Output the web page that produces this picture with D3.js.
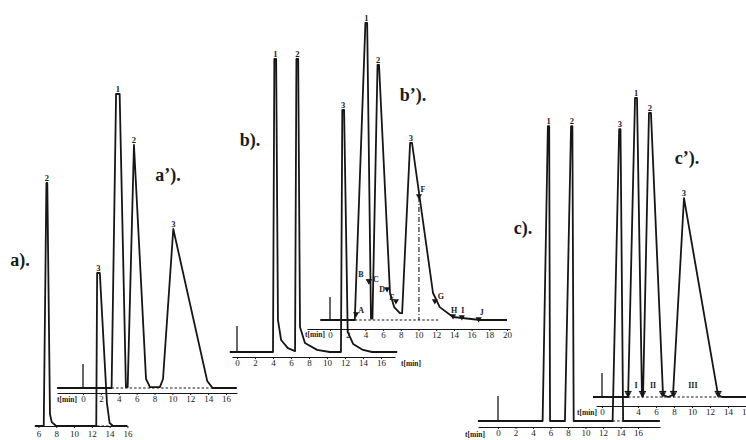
<!DOCTYPE html>
<html>
<head>
<meta charset="utf-8">
<script src="https://d3js.org/d3.v7.min.js"></script>
<style>
  body { margin: 0; background: #fff; }
  svg { display: block; }
  text { font-family: "Liberation Serif", "DejaVu Serif", serif; fill: #1a1a1a; }
</style>
</head>
<body>
<script>
// chromatogram traces, [time in min, detector signal]
var traceA = [[5.6,0],[6.6,0],[6.9,81],[7.0,81],[7.3,4],[7.5,1.3],[8.0,0],[12.5,0],[12.6,51],[12.9,51],[13.7,7.7],[14.0,1],[14.4,0],[16,0]];
var peaksA = [[6.95,81,"2"],[12.75,51,"3"]];
var ticksA = [6,8,10,12,14,16];

var traceA2 = [[-2.9,0],[3.2,0],[3.7,98],[4.1,98],[4.8,0.3],[5.0,0.3],[5.7,81],[7.05,3],[7.5,0.3],[8.6,0.3],[8.95,3],[10.1,53],[13.9,2.3],[14.5,0],[17.2,0]];
var peaksA2 = [[3.9,98,"1"],[5.7,81,"2"],[10.1,53,"3"]];
var ticksA2 = [0,2,4,6,8,10,12,14,16];

var traceB = [[-0.8,0],[4.0,0],[4.15,97.7],[4.35,97.7],[4.55,10.7],[4.9,4],[5.65,1.3],[6.45,0.3],[6.6,97.7],[6.8,97.7],[7.0,8.3],[7.55,3],[8.9,0.7],[10.3,0],[11.55,0],[11.7,80.7],[11.9,80.7],[12.3,6.7],[12.9,2.7],[14.0,0.7],[15,0],[17.8,0]];
var peaksB = [[4.25,97.7,"1"],[6.7,97.7,"2"],[11.8,80.7,"3"]];
var ticksB = [0,2,4,6,8,10,12,14,16];

var traceB2 = [[-1.1,0],[2.8,0],[4.0,99],[4.2,99],[4.63,0.5],[4.8,0.5],[5.37,85],[5.54,85],[6.78,9],[7.25,4.3],[7.9,2.3],[8.15,2.3],[9.05,59],[9.27,59],[11.64,9],[12.4,4.3],[13.9,1],[17,0],[20,0]];
var peaksB2 = [[4.1,99,"1"],[5.45,85,"2"],[9.15,59,"3"]];
var pointsB2 = [["A",2.94,1.7],["B",4.4,12.7],["C",4.4,12.7],["D",6.45,10],["E",7.45,6],["F",10.05,41],["G",11.85,6],["H",13.9,1],["I",14.9,0.7],["J",16.8,0]];
var ticksB2 = [0,2,4,6,8,10,12,14,16,18,20];

var traceC = [[-2.3,0],[5.1,0],[5.7,98.3],[5.85,98.3],[5.95,0],[7.65,0],[8.35,98.3],[8.5,98.3],[8.65,0],[13.1,0],[13.85,97.3],[14.0,97.3],[14.3,0],[18.5,0]];
var peaksC = [[5.78,98.3,"1"],[8.43,98.3,"2"],[13.93,97.3,"3"]];
var ticksC = [0,2,4,6,8,10,12,14,16];

var traceC2 = [[-1,0],[2.9,0],[3.67,99.7],[3.89,99.7],[4.44,0.3],[4.56,0.3],[5.22,94.7],[5.44,94.7],[6.78,0.7],[7.33,0],[7.89,0.7],[9.11,66.3],[12.89,0.7],[13.33,0],[16,0]];
var peaksC2 = [[3.78,99.7,"1"],[5.33,94.7,"2"],[9.11,66.3,"3"]];
var cutsC2 = [2.9,4.5,6.75,7.95,12.9];
var fractionsC2 = [[3.78,"I"],[5.67,"II"],[10.1,"III"]];
var ticksC2 = [0,4,6,8,10,12,14,16];

var width = 746, height = 440;

// where each chromatogram sits on the page
var panels = [
  {name: "a).",  trace: traceA,  peaks: peaksA,  ticks: ticksA,  zero: -15, ppm: 8.9,  base: 426, gap: 0, axis: [35, 127],  inj: 0,   tlab: null,      dash: [12.6, 14.3], pos: [20, 260]},
  {name: "a’).", trace: traceA2, peaks: peaksA2, ticks: ticksA2, zero: 83,  ppm: 8.94, base: 388, gap: 5, axis: [57, 237],  inj: 8,   tlab: [67, 399], dash: [3.2, 14.6],  pos: [168, 175]},
  {name: "b).",  trace: traceB,  peaks: peaksB,  ticks: ticksB,  zero: 237, ppm: 9,    base: 352, gap: 5, axis: [232, 395], inj: 8.7, tlab: [411, 363], dash: null,       pos: [250, 140]},
  {name: "b’).", trace: traceB2, peaks: peaksB2, ticks: ticksB2, zero: 330, ppm: 8.85, base: 320, gap: 9, axis: [307, 510], inj: 7.7, tlab: [315, 334], dash: [2.8, 12.4],  pos: [413, 95]},
  {name: "c).",  trace: traceC,  peaks: peaksC,  ticks: ticksC,  zero: 498, ppm: 8.75, base: 421, gap: 6, axis: [478, 660], inj: 8.3, tlab: [475, 434], dash: [13.1, 14.3], pos: [523, 228]},
  {name: "c’).", trace: traceC2, peaks: peaksC2, ticks: ticksC2, zero: 602, ppm: 9,    base: 397, gap: 9, axis: [596, 746], inj: 8,   tlab: [587, 412], dash: [2.9, 13.3],  pos: [687, 158]}
];

// offsets of the b' letters from their points
var letterOffset = {A: [5,-5], B: [-8,-8], C: [7,-3], D: [-5,-1], E: [-4,-5], F: [4,-8], G: [6,-6], H: [1,-7], I: [1,-8], J: [3,-8]};

var svg = d3.select("body").append("svg")
    .attr("width", width)
    .attr("height", height);

var ink = "#161616";

panels.forEach(function(p) {
  var x = d3.scaleLinear()
      .domain([(p.axis[0] - p.zero) / p.ppm, (p.axis[1] - p.zero) / p.ppm])
      .range(p.axis);
  var y = d3.scaleLinear().domain([0, 100]).range([p.base, p.base - 300]);
  p.x = x; p.y = y;

  var g = svg.append("g");

  // time axis
  var ax = g.append("g")
      .attr("transform", "translate(0," + (p.base + p.gap) + ")")
      .call(d3.axisBottom(x).tickValues(p.ticks).tickSize(2).tickSizeOuter(0).tickPadding(p.gap ? 1 : 3));
  ax.select(".domain").attr("stroke", ink).attr("stroke-width", 1.2);
  ax.selectAll(".tick line").attr("stroke", ink);
  ax.selectAll(".tick text").attr("font-size", 9).attr("fill", ink);

  if (p.tlab) {
    g.append("text")
      .attr("x", p.tlab[0]).attr("y", p.tlab[1])
      .attr("dy", ".35em")
      .attr("text-anchor", "middle")
      .attr("font-size", 7.5)
      .attr("font-weight", "bold")
      .text("t[min]");
  }

  // dashed baseline under the peaks
  if (p.dash) {
    g.append("line")
      .attr("x1", x(p.dash[0])).attr("x2", x(p.dash[1]))
      .attr("y1", y(0)).attr("y2", y(0))
      .attr("stroke", ink).attr("stroke-width", 1.1)
      .attr("stroke-dasharray", "2.5,2");
  }

  // injection mark
  if (p.inj) {
    g.append("line")
      .attr("x1", x(0)).attr("x2", x(0))
      .attr("y1", y(0)).attr("y2", y(p.inj))
      .attr("stroke", ink).attr("stroke-width", 1.3);
  }

  // trace
  var line = d3.line()
      .x(function(d) { return x(d[0]); })
      .y(function(d) { return y(d[1]); });

  g.append("path")
    .datum(p.trace)
    .attr("d", line)
    .attr("fill", "none")
    .attr("stroke", ink)
    .attr("stroke-width", 1.8)
    .attr("stroke-linejoin", "round");

  // peak numbers
  g.selectAll(".peak")
    .data(p.peaks)
    .enter().append("text")
      .attr("class", "peak")
      .attr("x", function(d) { return x(d[0]); })
      .attr("y", function(d) { return y(d[1]) - 2; })
      .attr("text-anchor", "middle")
      .attr("font-size", 8.5)
      .attr("font-weight", "bold")
      .text(function(d) { return d[2]; });

  // panel name
  g.append("text")
    .attr("x", p.pos[0]).attr("y", p.pos[1])
    .attr("dy", ".35em")
    .attr("text-anchor", "middle")
    .attr("font-size", 18)
    .attr("font-weight", "bold")
    .text(p.name);
});

// b' collection points A..J
var pb = panels[3];
svg.append("line")
  .attr("x1", pb.x(10.05)).attr("x2", pb.x(10.05))
  .attr("y1", pb.y(41)).attr("y2", pb.y(0))
  .attr("stroke", ink).attr("stroke-width", 1.1)
  .attr("stroke-dasharray", "5,2,1,2");

svg.selectAll(".mark")
  .data(pointsB2)
  .enter().append("path")
    .attr("class", "mark")
    .attr("d", d3.symbol().type(d3.symbolTriangle).size(16))
    .attr("transform", function(d) { return "translate(" + pb.x(d[1]) + "," + (pb.y(d[2]) - 1) + ") rotate(180)"; })
    .attr("fill", ink);

svg.selectAll(".letter")
  .data(pointsB2)
  .enter().append("text")
    .attr("class", "letter")
    .attr("x", function(d) { return pb.x(d[1]) + letterOffset[d[0]][0]; })
    .attr("y", function(d) { return pb.y(d[2]) + letterOffset[d[0]][1]; })
    .attr("dy", ".35em")
    .attr("text-anchor", "middle")
    .attr("font-size", 8)
    .attr("font-weight", "bold")
    .text(function(d) { return d[0]; });

// c' fraction cuts I, II, III
var pc = panels[5];
var cuts = svg.selectAll(".cut")
  .data(cutsC2)
  .enter().append("g")
    .attr("class", "cut")
    .attr("transform", function(d) { return "translate(" + pc.x(d) + "," + (pc.y(0) - 3) + ")"; });
cuts.append("path")
  .attr("d", d3.symbol().type(d3.symbolTriangle).size(18))
  .attr("transform", "rotate(180)")
  .attr("fill", ink);
cuts.append("line")
  .attr("x1", -3.5).attr("x2", 3.5).attr("y1", -2.5).attr("y2", -2.5)
  .attr("stroke", ink).attr("stroke-width", 1.2);

svg.selectAll(".frac")
  .data(fractionsC2)
  .enter().append("text")
    .attr("class", "frac")
    .attr("x", function(d) { return pc.x(d[0]); })
    .attr("y", pc.y(0) - 12)
    .attr("dy", ".35em")
    .attr("text-anchor", "middle")
    .attr("font-size", 8)
    .attr("font-weight", "bold")
    .text(function(d) { return d[1]; });
</script>
</body>
</html>
